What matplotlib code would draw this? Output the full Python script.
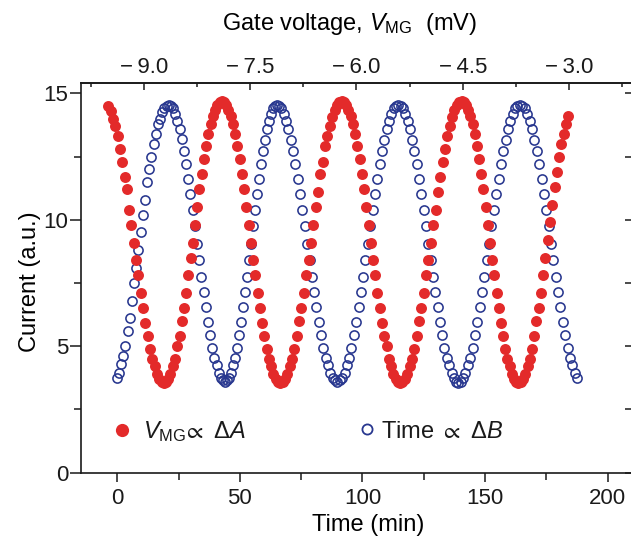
import matplotlib
matplotlib.use('Agg')
import matplotlib.pyplot as plt
from matplotlib.ticker import MultipleLocator, FixedLocator, FuncFormatter
from matplotlib.lines import Line2D

plt.rcParams['font.family'] = ['Liberation Sans', 'DejaVu Sans']
plt.rcParams['mathtext.fontset'] = 'custom'
plt.rcParams['mathtext.rm'] = 'Liberation Sans'
plt.rcParams['mathtext.it'] = 'Liberation Sans:italic'
plt.rcParams['mathtext.bf'] = 'Liberation Sans:bold'
plt.rcParams['mathtext.fallback'] = 'stixsans'
plt.rcParams['text.color'] = '#1a1a1a'

# ---------------- data ----------------
red_time = [
    -3.6, -2.7, -1.7, -0.8, 0.2, 1.1, 2.0, 3.0, 3.9, 4.9, 5.8, 6.7, 7.7, 8.6, 9.6, 10.5, 11.5, 12.4,
    13.3, 14.3, 15.2, 16.2, 17.1, 18.1,
    19.0, 19.9, 20.8, 21.7, 22.6, 23.5, 24.4, 25.4, 26.3, 27.2, 28.1, 29.0, 29.9, 30.8, 31.7, 32.6,
    33.5, 34.4, 35.3, 36.3, 37.2, 38.1, 39.0, 39.9, 40.8, 41.7,
    42.6, 43.5, 44.4, 45.3, 46.3, 47.2, 48.1, 49.0, 49.9, 50.8, 51.8, 52.7, 53.6, 54.5, 55.4, 56.3,
    57.2, 58.2, 59.1, 60.0, 60.9, 61.8, 62.7, 63.6, 64.6, 65.5,
    66.4, 67.4, 68.3, 69.3, 70.3, 71.2, 72.2, 73.2, 74.1, 75.1, 76.1, 77.0, 78.0, 79.0, 79.9, 80.9,
    81.8, 82.8, 83.8, 84.7, 85.7, 86.7, 87.6, 88.6, 89.6, 90.5,
    91.5, 92.4, 93.3, 94.2, 95.2, 96.1, 97.0, 97.9, 98.8, 99.7, 100.7, 101.6, 102.5, 103.4, 104.3,
    105.2, 106.1, 107.1, 108.0, 108.9, 109.8, 110.7, 111.6, 112.5, 113.5, 114.4,
    115.3, 116.3, 117.2, 118.2, 119.2, 120.1, 121.1, 122.1, 123.0, 124.0, 125.0, 125.9, 126.9, 127.8,
    128.8, 129.8, 130.7, 131.7, 132.7, 133.6, 134.6, 135.6, 136.5, 137.5, 138.5, 139.4,
    140.4, 141.3, 142.2, 143.1, 144.0, 144.9, 145.8, 146.6, 147.5, 148.4, 149.3, 150.2, 151.1, 152.0,
    152.9, 153.8, 154.7, 155.6, 156.5, 157.4, 158.2, 159.1, 160.0, 160.9, 161.8, 162.7,
    163.6, 164.5, 165.4, 166.4, 167.3, 168.2, 169.1, 170.0, 170.9, 171.9, 172.8, 173.7, 174.6, 175.5,
    176.5, 177.4, 178.3, 179.2, 180.1, 181.1, 182.0, 182.9, 183.8,
]
red_current = [
    14.5, 14.3, 14.0, 13.7, 13.3, 12.8, 12.3, 11.7, 11.2, 10.4, 9.8, 9.1, 8.4, 7.8, 7.1, 6.5, 5.9, 5.4,
    4.9, 4.5, 4.2, 3.9, 3.7, 3.6,
    3.55, 3.6, 3.7, 3.9, 4.2, 4.5, 5.0, 5.4, 6.0, 6.5, 7.1, 7.8, 8.5, 9.1, 9.8, 10.5,
    11.2, 11.8, 12.4, 12.9, 13.4, 13.8, 14.1, 14.35, 14.55, 14.65,
    14.7, 14.65, 14.55, 14.35, 14.1, 13.8, 13.4, 12.9, 12.4, 11.8, 11.2, 10.5, 9.8, 9.1, 8.4, 7.8,
    7.1, 6.5, 5.9, 5.4, 4.9, 4.5, 4.2, 3.9, 3.7, 3.6,
    3.55, 3.6, 3.7, 3.9, 4.2, 4.5, 4.9, 5.4, 6.0, 6.5, 7.1, 7.8, 8.4, 9.1, 9.8, 10.5,
    11.1, 11.8, 12.3, 12.9, 13.3, 13.7, 14.05, 14.35, 14.55, 14.65,
    14.7, 14.65, 14.55, 14.35, 14.1, 13.8, 13.4, 12.9, 12.4, 11.8, 11.2, 10.5, 9.8, 9.1, 8.4,
    7.8, 7.1, 6.5, 5.9, 5.4, 5.0, 4.5, 4.2, 3.9, 3.7, 3.6,
    3.55, 3.6, 3.7, 3.9, 4.2, 4.5, 4.9, 5.4, 6.0, 6.5, 7.1, 7.8, 8.4, 9.1,
    9.8, 10.4, 11.1, 11.7, 12.3, 12.8, 13.3, 13.7, 14.05, 14.35, 14.55, 14.65,
    14.7, 14.65, 14.55, 14.35, 14.1, 13.8, 13.4, 12.9, 12.4, 11.8, 11.2, 10.5, 9.8, 9.1,
    8.4, 7.8, 7.1, 6.5, 5.9, 5.4, 4.9, 4.5, 4.2, 3.9, 3.7, 3.6,
    3.55, 3.6, 3.7, 3.9, 4.2, 4.5, 4.9, 5.4, 6.0, 6.5, 7.1, 7.8, 8.5, 9.2,
    9.9, 10.6, 11.3, 11.9, 12.5, 13.0, 13.4, 13.8, 14.1,
]

blue_time = [
    -0.2, 0.7, 1.5, 2.4, 3.3, 4.2, 5.1, 6.0, 6.9, 7.7, 8.6, 9.5, 10.4, 11.3, 12.2, 13.0, 13.9, 14.8,
    15.7, 16.6, 17.5, 18.4, 19.2, 20.1,
    21.0, 21.9, 22.8, 23.7, 24.5, 25.4, 26.3, 27.2, 28.1, 29.0, 29.8, 30.7, 31.6, 32.5, 33.4, 34.3,
    35.2, 36.0, 36.9, 37.8, 38.7, 39.6, 40.5, 41.4, 42.2, 43.1,
    44.0, 44.8, 45.6, 46.4, 47.2, 48.0, 48.8, 49.7, 50.5, 51.3, 52.1, 52.9, 53.7, 54.5, 55.3, 56.1,
    56.9, 57.7, 58.5, 59.3, 60.2, 61.0, 61.8, 62.6, 63.4, 64.2,
    65.0, 66.0, 66.9, 67.9, 68.8, 69.8, 70.7, 71.7, 72.6, 73.6, 74.5, 75.5, 76.4, 77.4, 78.4, 79.3,
    80.3, 81.2, 82.2, 83.1, 84.1, 85.0, 86.0, 86.9, 87.9, 88.8,
    89.8, 90.8, 91.7, 92.7, 93.6, 94.6, 95.5, 96.5, 97.4, 98.4, 99.3, 100.3, 101.2, 102.2, 103.2,
    104.1, 105.1, 106.0, 107.0, 107.9, 108.9, 109.8, 110.8, 111.7, 112.7, 113.6,
    114.6, 115.5, 116.5, 117.4, 118.4, 119.3, 120.3, 121.2, 122.1, 123.1, 124.0, 125.0, 125.9, 126.9,
    127.8, 128.7, 129.7, 130.6, 131.6, 132.5, 133.4, 134.4, 135.3, 136.3, 137.2, 138.2,
    139.1, 140.1, 141.0, 142.0, 143.0, 143.9, 144.9, 145.9, 146.8, 147.8, 148.8, 149.7, 150.7, 151.6,
    152.6, 153.6, 154.5, 155.5, 156.5, 157.4, 158.4, 159.4, 160.3, 161.3, 162.3, 163.2,
    164.2, 165.2, 166.1, 167.1, 168.1, 169.1, 170.0, 171.0, 172.0, 173.0, 173.9, 174.9, 175.9, 176.9,
    177.8, 178.8, 179.8, 180.7, 181.7, 182.7, 183.7, 184.6, 185.6, 186.6, 187.6,
]
blue_current = [
    3.75, 3.95, 4.3, 4.6, 5.0, 5.6, 6.1, 6.8, 7.5, 8.1, 8.8, 9.5, 10.2, 10.8, 11.5, 12.0, 12.5, 13.0,
    13.4, 13.8, 14.0, 14.25, 14.4, 14.5,
    14.55, 14.5, 14.4, 14.2, 13.9, 13.6, 13.2, 12.7, 12.2, 11.6, 11.0, 10.4, 9.75, 9.05, 8.4, 7.75,
    7.15, 6.55, 5.95, 5.45, 4.95, 4.55, 4.25, 3.95, 3.75, 3.65,
    3.6, 3.65, 3.75, 3.95, 4.25, 4.55, 4.95, 5.45, 5.95, 6.55, 7.15, 7.75, 8.4, 9.05, 9.75, 10.4,
    11.0, 11.6, 12.2, 12.7, 13.15, 13.6, 13.9, 14.2, 14.4, 14.5,
    14.55, 14.5, 14.4, 14.2, 13.9, 13.6, 13.15, 12.7, 12.2, 11.6, 11.0, 10.4, 9.75, 9.05, 8.4, 7.75,
    7.15, 6.55, 5.95, 5.45, 4.95, 4.55, 4.25, 3.95, 3.75, 3.65,
    3.6, 3.65, 3.75, 3.95, 4.25, 4.55, 4.95, 5.45, 5.95, 6.55, 7.15, 7.75, 8.4, 9.05, 9.75,
    10.4, 11.0, 11.6, 12.2, 12.7, 13.15, 13.6, 13.9, 14.2, 14.4, 14.5,
    14.55, 14.5, 14.4, 14.2, 13.9, 13.6, 13.15, 12.7, 12.2, 11.6, 11.0, 10.4, 9.75, 9.05,
    8.4, 7.75, 7.15, 6.55, 5.95, 5.45, 4.95, 4.55, 4.25, 3.95, 3.75, 3.6,
    3.55, 3.6, 3.75, 3.95, 4.25, 4.55, 4.95, 5.45, 5.95, 6.55, 7.15, 7.75, 8.4, 9.05,
    9.75, 10.4, 11.0, 11.6, 12.2, 12.7, 13.15, 13.6, 13.9, 14.2, 14.4, 14.5,
    14.55, 14.5, 14.4, 14.2, 13.9, 13.6, 13.15, 12.7, 12.2, 11.6, 11.0, 10.4, 9.75, 9.05,
    8.4, 7.75, 7.15, 6.55, 5.95, 5.45, 4.95, 4.55, 4.25, 3.95, 3.75,
]

time_ticks = [0, 50, 100, 150, 200]
current_ticks = [0, 5, 10, 15]
gate_ticks = [-9.0, -7.5, -6.0, -4.5, -3.0]
gate_minor_ticks = [-9.75, -8.25, -6.75, -5.25, -3.75, -2.25]
gate_at_t0 = -9.377      # mV at time 0
gate_per_min = 0.034622  # mV per minute

red_label = r'$V_{\mathrm{MG}}\!\propto\ \Delta A$'
blue_label = r'Time $\propto\ \Delta B$'

RED = '#e32a2a'
BLUE = '#28378f'
INK = '#1a1a1a'

# ---------------- figure ----------------
W, H = 631, 549
fig = plt.figure(figsize=(W / 100, H / 100), dpi=100)
left_px, right_px, top_px, bottom_px = 80.7, 633.0, 82.7, 472.7
ax = fig.add_axes([left_px / W, (H - bottom_px) / H,
                   (right_px - left_px) / W, (bottom_px - top_px) / H])

ax.plot(blue_time, blue_current, ls='none', marker='o', ms=6.6, mfc='none',
        mec=BLUE, mew=1.15, zorder=2)
ax.plot(red_time, red_current, ls='none', marker='o', ms=7.9, mfc=RED,
        mec=RED, mew=0, zorder=3)

ax.set_xlim(-14.9, 210.3)
ax.set_ylim(0, 15.42)

for s in ax.spines.values():
    s.set_linewidth(1.2)
    s.set_color(INK)
ax.spines['right'].set_visible(False)

ax.set_xticks(time_ticks)
ax.xaxis.set_minor_locator(MultipleLocator(25))
ax.tick_params(axis='x', which='major', direction='out', length=6.5, width=1.1,
               pad=4.5, labelsize=16, top=False, colors=INK)
ax.tick_params(axis='x', which='minor', direction='out', length=4.8, width=1.1,
               top=False, colors=INK)
ax.set_yticks(current_ticks)
ax.yaxis.set_minor_locator(MultipleLocator(2.5))
ax.tick_params(axis='y', which='major', direction='out', length=8, width=1.1,
               pad=1.0, labelsize=16, right=False, colors=INK)
ax.tick_params(axis='y', which='minor', direction='out', length=5, width=1.1,
               right=False, colors=INK)


def t2v(t):
    return gate_at_t0 + gate_per_min * t


def v2t(v):
    return (v - gate_at_t0) / gate_per_min


sec = ax.secondary_xaxis('top', functions=(t2v, v2t))
sec.set_xticks(gate_ticks)
sec.xaxis.set_minor_locator(FixedLocator(gate_minor_ticks))
sec.xaxis.set_major_formatter(FuncFormatter(lambda v, p: f"{v:.1f}".replace('-', '\u2212\u2009')))
sec.tick_params(which='major', direction='in', length=5, width=1.1, pad=3.5,
                labelsize=16, colors=INK)
sec.tick_params(which='minor', direction='in', length=3, width=1.1, colors=INK)
for s in sec.spines.values():
    s.set_linewidth(1.2)
    s.set_color(INK)
sec.set_xlabel(r'Gate voltage, $V_{\mathrm{MG}}$  (mV)', fontsize=17)
sec.xaxis.set_label_coords(0.4876, 1.135, transform=ax.transAxes)

secy = ax.secondary_yaxis('right')
secy.yaxis.set_major_locator(MultipleLocator(2.5))
secy.tick_params(direction='in', length=6, width=1.1, labelright=False, colors=INK)
for s in secy.spines.values():
    s.set_linewidth(1.2)

ax.set_xlabel('Time (min)', fontsize=17)
ax.xaxis.set_label_coords(0.52, -0.105)
ax.set_ylabel('Current (a.u.)', fontsize=17)
ax.yaxis.set_label_coords(-0.072, 0.489)

h_red = Line2D([], [], ls='none', marker='o', ms=9.5, mfc=RED, mec=RED, mew=0)
h_blue = Line2D([], [], ls='none', marker='o', ms=7.3, mfc='none', mec=BLUE, mew=1.3)
leg1 = ax.legend([h_red], [red_label], loc='center left', bbox_to_anchor=(0.0543, 0.105),
                 frameon=False, borderpad=0, borderaxespad=0, handlelength=1.0,
                 handletextpad=0.35, fontsize=17)
ax.add_artist(leg1)
ax.legend([h_blue], [blue_label], loc='center left', bbox_to_anchor=(0.4967, 0.105),
          frameon=False, borderpad=0, borderaxespad=0, handlelength=1.0,
          handletextpad=0.1, fontsize=17)

fig.savefig('out.png', dpi=100)
